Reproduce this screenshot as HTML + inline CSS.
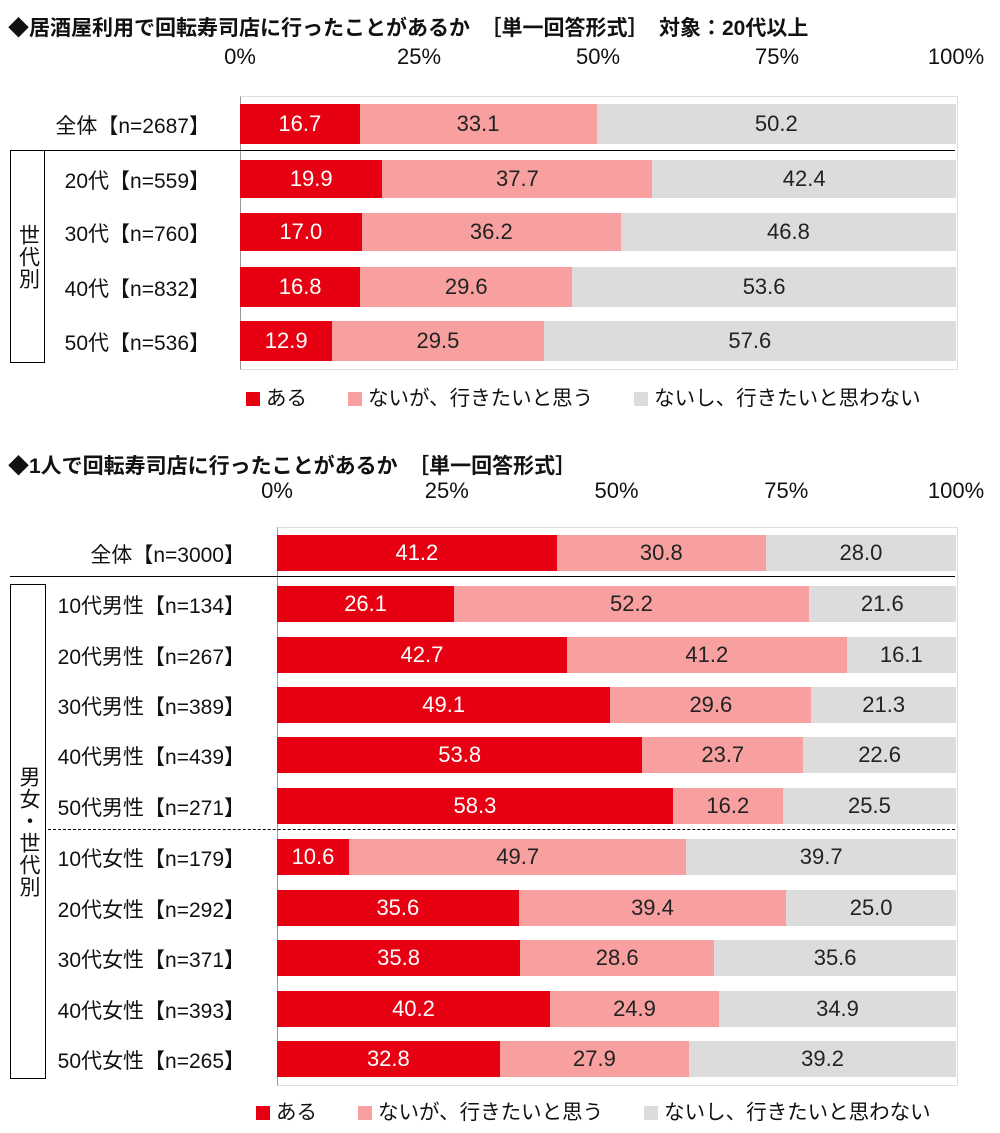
<!DOCTYPE html>
<html><head><meta charset="utf-8"><style>
body{margin:0;width:1000px;height:1133px;background:#fff;position:relative;overflow:hidden;font-family:"Liberation Sans","Noto Sans CJK JP",sans-serif;color:#111}
.a{position:absolute;white-space:nowrap}
.t{font-weight:bold;font-size:21px}
.seg{position:absolute;text-align:center;font-size:22px}
.lab{position:absolute;font-size:21px;text-align:right;white-space:nowrap}
.tick{position:absolute;font-size:22px;transform:translateX(-50%)}
.vbox{position:absolute;border:1.5px solid #000;font-size:21px;display:flex;align-items:center;justify-content:center;writing-mode:vertical-rl;text-orientation:upright;letter-spacing:1px}
.leg{position:absolute;font-size:20.5px;white-space:nowrap}
.leg span{display:inline-block;width:14px;height:14px;margin-right:6px;vertical-align:-1px}
</style></head><body>
<div class="a t" style="left:8px;top:12px">◆居酒屋利用で回転寿司店に行ったことがあるか　［単一回答形式］　対象：20代以上</div>
<div class="a t" style="left:8px;top:450px">◆1人で回転寿司店に行ったことがあるか　［単一回答形式］</div>
<div id="c"></div>
<div class="vbox" style="left:10px;top:150px;width:33px;height:211px">世代別</div>
<div class="vbox" style="left:10px;top:584px;width:34px;height:493px">男女・世代別</div>
<div class="a" style="left:10px;top:150px;width:945px;border-top:1.5px solid #000"></div>
<div class="a" style="left:48px;top:829px;width:907px;border-top:1.5px dashed #000"></div>
<div class="leg" style="left:246px;top:381px"><span style="background:#e60012"></span>ある　　<span style="background:#f8a0a0"></span>ないが、行きたいと思う　　<span style="background:#dcdcdc"></span>ないし、行きたいと思わない</div>
<div class="leg" style="left:256px;top:1095px"><span style="background:#e60012"></span>ある　　<span style="background:#f8a0a0"></span>ないが、行きたいと思う　　<span style="background:#dcdcdc"></span>ないし、行きたいと思わない</div>
<script>
var c=document.getElementById('c'),h='';
function chart(x0,w,tickY,frameT,frameB,rows,labR){
 ['0%','25%','50%','75%','100%'].forEach(function(t,i){h+='<div class="tick" style="left:'+(x0+w*i/4)+'px;top:'+tickY+'px">'+t+'</div>'});
 h+='<div class="a" style="left:'+x0+'px;top:'+frameT+'px;width:'+w+'px;height:'+(frameB-frameT)+'px;border:1px solid #ddd;border-left:1px solid #999"></div>';
 rows.forEach(function(r){
  var y=r[1],hh=r[2],v=r[3],x=x0,cols=['#e60012','#f8a0a0','#dcdcdc'],fc=['#fff','#222','#222'];
  h+='<div class="lab" style="right:'+(1000-labR)+'px;top:'+(y+hh/2-14)+'px">'+r[0]+'</div>';
  v.forEach(function(p,i){var ww=w*p/100;if(i==2)ww=x0+w-x;
   h+='<div class="seg" style="left:'+x+'px;top:'+y+'px;width:'+ww+'px;height:'+hh+'px;line-height:'+hh+'px;background:'+cols[i]+';color:'+fc[i]+'">'+p.toFixed(1)+'</div>';x+=ww;});
 });
}
chart(240,716,44,96,368,[
['全体【n=2687】',104,40,[16.7,33.1,50.2]],
['20代【n=559】',160,38,[19.9,37.7,42.4]],
['30代【n=760】',213,38,[17.0,36.2,46.8]],
['40代【n=832】',267,40,[16.8,29.6,53.6]],
['50代【n=536】',321,40,[12.9,29.5,57.6]]],210);
var r2=[['全体【n=3000】',535,[41.2,30.8,28.0]],['10代男性【n=134】',586,[26.1,52.2,21.6]],['20代男性【n=267】',637,[42.7,41.2,16.1]],['30代男性【n=389】',687,[49.1,29.6,21.3]],['40代男性【n=439】',737,[53.8,23.7,22.6]],['50代男性【n=271】',788,[58.3,16.2,25.5]],['10代女性【n=179】',839,[10.6,49.7,39.7]],['20代女性【n=292】',890,[35.6,39.4,25.0]],['30代女性【n=371】',940,[35.8,28.6,35.6]],['40代女性【n=393】',991,[40.2,24.9,34.9]],['50代女性【n=265】',1041,[32.8,27.9,39.2]]];
chart(277,679,478,527,1084,r2.map(function(r){return [r[0],r[1],36,r[2]]}),245);
h+='<div class="a" style="left:10px;top:576px;width:945px;border-top:1.5px solid #000"></div>';
c.innerHTML=h;
</script>
</body></html>
